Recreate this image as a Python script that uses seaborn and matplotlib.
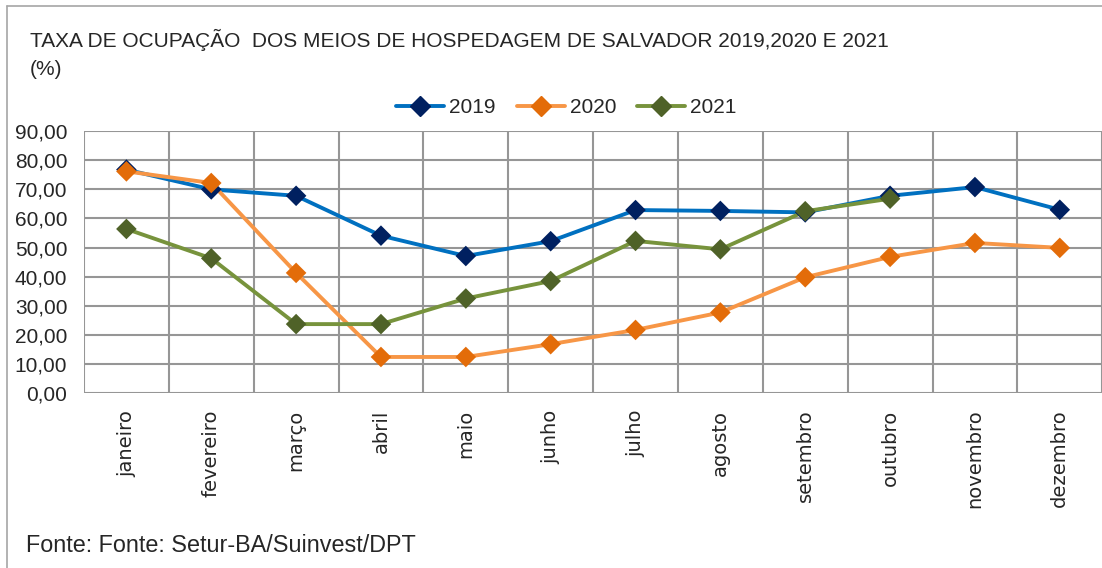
import pandas as pd
import matplotlib.pyplot as plt
from matplotlib.lines import Line2D
import seaborn as sns

# data
meses = ["janeiro", "fevereiro", "março", "abril", "maio", "junho",
         "julho", "agosto", "setembro", "outubro", "novembro", "dezembro"]
taxa_2019 = [76.8, 70.0, 67.8, 54.1, 47.1, 52.2, 62.9, 62.6, 62.1, 67.8, 70.8, 63.0]
taxa_2020 = [76.2, 72.2, 41.3, 12.4, 12.4, 16.8, 21.7, 27.7, 39.8, 46.8, 51.6, 49.9]
taxa_2021 = [56.4, 46.3, 23.7, 23.7, 32.5, 38.5, 52.3, 49.4, 62.5, 66.8, None, None]
anos = ["2019", "2020", "2021"]
cor_linha = ["#0070C0", "#F79646", "#77933C"]
cor_marca = ["#002060", "#E36C09", "#4F6228"]

df = pd.DataFrame({"mes": meses * 3,
                   "pos": list(range(12)) * 3,
                   "ano": [a for a in anos for _ in meses],
                   "taxa": taxa_2019 + taxa_2020 + taxa_2021})
df = df.dropna()

sns.set_style("white")
plt.rcParams['font.family'] = ['Liberation Sans', 'DejaVu Sans']

fig = plt.figure(figsize=(11.02, 5.68), dpi=100)
ax = fig.add_axes([0.0762, 0.308, 0.924, 0.461])

sns.lineplot(data=df, x="pos", y="taxa", hue="ano", palette=cor_linha,
             linewidth=2.8, ax=ax, legend=False, zorder=3)
sns.scatterplot(data=df, x="pos", y="taxa", hue="ano", palette=cor_marca,
                marker="D", s=110, edgecolor="none", ax=ax, legend=False, zorder=4)

ax.set_xlim(-0.5, 11.5)
ax.set_ylim(0, 90)
ax.set_yticks(range(0, 91, 10))
ax.set_yticklabels([f"{v:.2f}".replace(".", ",") for v in range(0, 91, 10)], fontsize=15)
ax.set_xticks(range(12))
ax.set_xticklabels(meses, rotation=90, fontsize=14, family="DejaVu Sans")
ax.set_xticks([i - 0.5 for i in range(13)], minor=True)
ax.tick_params(axis="x", which="major", length=0, pad=12)
ax.tick_params(axis="x", which="minor", length=6, width=1.5, color="#969696")
ax.tick_params(axis="y", length=6, width=1.5, color="#969696", pad=6)
ax.grid(True, which="minor", axis="x", color="#969696", linewidth=1.5)
ax.grid(True, which="major", axis="y", color="#969696", linewidth=1.5)
for s in ax.spines.values():
    s.set_visible(False)
ax.set_xlabel("")
ax.set_ylabel("")

handles = [Line2D([0], [0], color=cor_linha[i], lw=2.8, marker="D", markersize=10,
                  markerfacecolor=cor_marca[i], markeredgecolor=cor_marca[i])
           for i in range(3)]
fig.legend(handles, anos, loc="center", bbox_to_anchor=(0.514, 0.81), ncol=3,
           frameon=False, fontsize=15, handlelength=2.3, columnspacing=1.0, handletextpad=0.25)

fig.text(0.027, 0.93, "TAXA DE OCUPAÇÃO  DOS MEIOS DE HOSPEDAGEM DE SALVADOR 2019,2020 E 2021",
         fontsize=15, va="center", ha="left")
fig.text(0.027, 0.878, "(%)", fontsize=15, va="center", ha="left")
fig.text(0.024, 0.04, "Fonte: Fonte: Setur-BA/Suinvest/DPT", fontsize=16.8, va="center", ha="left")

# chart border (top and left visible in the reference)
fig.add_artist(Line2D([0.0065, 1.0], [0.99, 0.99], color="#A6A6A6", lw=1.2))
fig.add_artist(Line2D([0.0065, 0.0065], [0.0, 0.99], color="#A6A6A6", lw=1.2))

fig.savefig("out.png", dpi=100)
